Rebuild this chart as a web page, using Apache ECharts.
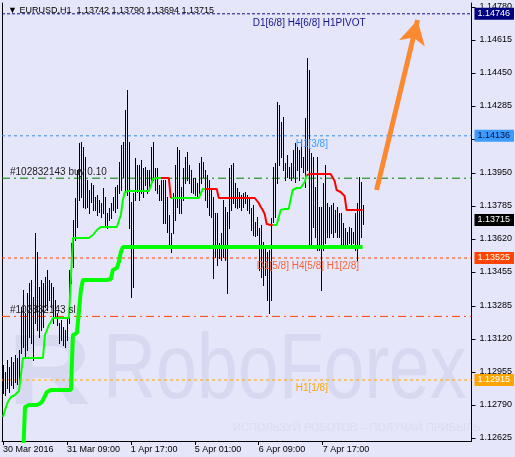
<!DOCTYPE html>
<html><head><meta charset="utf-8">
<script src="https://cdn.jsdelivr.net/npm/echarts@6/dist/echarts.min.js"></script>
<style>html,body{margin:0;padding:0;background:#e6e6fa}#c{width:515px;height:457px}</style>
</head><body><div id="c"></div>
<script>
// ---------- DATA (EURUSD H1, one value per hourly bar) ----------
const highs = [
1.12990,1.12955,1.13015,1.12980,1.13030,1.13005,1.13040,1.13025,1.13065,1.13280,
1.13365,1.13250,1.13350,1.13400,1.13415,1.13330,1.13650,1.13555,1.13380,1.13415,
1.13400,1.13430,1.13465,1.13415,1.13400,1.13380,1.13315,1.13250,1.13200,1.13215,
1.13180,1.13165,1.13230,1.13465,1.13600,1.13715,1.13825,1.13965,1.14100,1.14105,
1.14080,1.14030,1.13915,1.13865,1.13900,1.13890,1.13830,1.13840,1.13815,1.13800,
1.13875,1.13830,1.13750,1.13775,1.13800,1.13830,1.13880,1.13890,1.14005,1.14090,
1.14105,1.14265,1.14365,1.14105,1.13805,1.13850,1.14025,1.13990,1.13990,1.14015,
1.13975,1.13980,1.13965,1.13965,1.14080,1.14105,1.13975,1.13975,1.13890,1.13915,
1.13915,1.13915,1.13830,1.13740,1.13650,1.13850,1.13990,1.14080,1.14065,1.13880,
1.13975,1.14030,1.14055,1.13990,1.13965,1.13925,1.13925,1.13900,1.14000,1.14030,
1.14005,1.13965,1.13940,1.13915,1.13875,1.13830,1.13750,1.13750,1.13600,1.13650,
1.13815,1.13780,1.13755,1.13975,1.13990,1.14000,1.13900,1.13875,1.13855,1.13840,
1.13850,1.13855,1.13840,1.13825,1.13775,1.13790,1.13705,1.13730,1.13675,1.13690,
1.13605,1.13575,1.13555,1.13565,1.13725,1.13980,1.14000,1.14305,1.14290,1.14205,
1.14230,1.14000,1.14040,1.13980,1.14000,1.14065,1.14100,1.14080,1.14065,1.14115,
1.14030,1.14225,1.14525,1.14465,1.14050,1.14030,1.13880,1.14030,1.13780,1.13780,
1.13900,1.13990,1.13800,1.13780,1.13790,1.13800,1.13765,1.13780,1.13750,1.13750,
1.13700,1.13675,1.13655,1.13680,1.13675,1.13655,1.13750,1.13800,1.13930,1.13905,
1.13790];
const lows = [
1.12850,1.12840,1.12875,1.12855,1.12890,1.12875,1.12905,1.12895,1.12900,1.13050,
1.13080,1.13030,1.13065,1.13130,1.13100,1.13015,1.13200,1.13165,1.13130,1.13165,
1.13180,1.13280,1.13265,1.13315,1.13280,1.13200,1.13230,1.13190,1.13100,1.13115,
1.13090,1.13080,1.13115,1.13200,1.13400,1.13480,1.13615,1.13680,1.13815,1.13830,
1.13780,1.13775,1.13780,1.13750,1.13805,1.13765,1.13765,1.13740,1.13755,1.13730,
1.13750,1.13680,1.13675,1.13715,1.13725,1.13765,1.13755,1.13775,1.13850,1.13865,
1.13930,1.13855,1.13840,1.13675,1.13330,1.13380,1.13815,1.13855,1.13815,1.13850,
1.13830,1.13890,1.13850,1.13865,1.13915,1.13915,1.13865,1.13850,1.13815,1.13815,
1.13700,1.13700,1.13655,1.13575,1.13555,1.13650,1.13715,1.13780,1.13750,1.13750,
1.13815,1.13900,1.13915,1.13900,1.13855,1.13850,1.13840,1.13830,1.13850,1.13900,
1.13930,1.13815,1.13780,1.13740,1.13730,1.13425,1.13530,1.13490,1.13525,1.13515,
1.13530,1.13515,1.13350,1.13675,1.13765,1.13800,1.13780,1.13775,1.13780,1.13765,
1.13780,1.13800,1.13765,1.13750,1.13665,1.13640,1.13635,1.13640,1.13465,1.13430,
1.13390,1.13440,1.13315,1.13250,1.13315,1.13705,1.13730,1.13900,1.13990,1.14030,
1.13965,1.13915,1.13930,1.13925,1.13915,1.13930,1.13905,1.13965,1.13915,1.13980,
1.13955,1.13880,1.13965,1.13580,1.13580,1.13680,1.13630,1.13565,1.13565,1.13365,
1.13565,1.13600,1.13630,1.13630,1.13650,1.13630,1.13655,1.13630,1.13630,1.13580,
1.13580,1.13590,1.13575,1.13600,1.13580,1.13600,1.13565,1.13515,1.13580,1.13630,
1.13694];
// trailing trend line (thin), green when below price, red when above
const trendLine = [
1.12730,1.12765,1.12795,1.12815,1.12830,1.12835,1.12840,1.12845,1.12860,1.12865,
1.13025,1.13025,1.13025,1.13025,1.13025,1.13025,1.13025,1.13025,1.13025,1.13025,
1.13025,1.13140,1.13165,1.13190,1.13205,1.13225,1.13225,1.13225,1.13225,1.13225,
1.13225,1.13225,1.13225,1.13225,1.13225,1.13625,1.13625,1.13625,1.13625,1.13625,
1.13625,1.13625,1.13625,1.13625,1.13630,1.13640,1.13645,1.13665,1.13675,1.13680,
1.13680,1.13680,1.13680,1.13680,1.13680,1.13680,1.13680,1.13680,1.13680,1.13740,
1.13815,1.13855,1.13860,1.13860,1.13860,1.13860,1.13860,1.13860,1.13860,1.13860,
1.13860,1.13860,1.13860,1.13860,1.13885,1.13920,1.13925,1.13925,1.13925,1.13925,
1.13925,1.13925,1.13925,1.13925,1.13825,1.13825,1.13825,1.13825,1.13825,1.13825,
1.13825,1.13825,1.13825,1.13825,1.13825,1.13825,1.13825,1.13825,1.13825,1.13825,
1.13870,1.13870,1.13870,1.13870,1.13870,1.13870,1.13870,1.13870,1.13825,1.13825,
1.13825,1.13825,1.13825,1.13825,1.13825,1.13825,1.13825,1.13825,1.13825,1.13825,
1.13825,1.13825,1.13825,1.13825,1.13825,1.13825,1.13825,1.13815,1.13800,1.13780,
1.13765,1.13745,1.13695,1.13690,1.13690,1.13690,1.13690,1.13690,1.13690,1.13765,
1.13770,1.13770,1.13770,1.13770,1.13770,1.13865,1.13875,1.13875,1.13875,1.13875,
1.13875,1.13905,1.13940,1.13945,1.13945,1.13945,1.13945,1.13945,1.13945,1.13945,
1.13945,1.13945,1.13945,1.13945,1.13945,1.13945,1.13910,1.13865,1.13855,1.13855,
1.13855,1.13835,1.13765,1.13765,1.13765,1.13765,1.13765,1.13765,1.13765,1.13765,
1.13765];
// bar index ranges where the trend line is red
const redRuns = [[80, 84], [102, 135], [153, 180]];
// thick trailing line (starts at bar 10)
const thickLine = [
null,null,null,null,null,null,null,null,null,null,
1.12515,1.12780,1.12790,1.12790,1.12790,1.12790,1.12790,1.12790,1.12795,1.12800,
1.12815,1.12835,1.12855,1.12865,1.12865,1.12865,1.12865,1.12865,1.12865,1.12865,
1.12865,1.12865,1.12865,1.12865,1.12865,1.13140,1.13150,1.13150,1.13150,1.13365,
1.13415,1.13415,1.13415,1.13415,1.13415,1.13415,1.13415,1.13415,1.13415,1.13415,
1.13415,1.13415,1.13415,1.13415,1.13420,1.13465,1.13475,1.13475,1.13505,1.13555,
1.13580,1.13580,1.13580,1.13580,1.13580,1.13580,1.13580,1.13580,1.13580,1.13580,
1.13580,1.13580,1.13580,1.13580,1.13580,1.13580,1.13580,1.13580,1.13580,1.13580,
1.13580,1.13580,1.13580,1.13580,1.13580,1.13580,1.13580,1.13580,1.13580,1.13580,
1.13580,1.13580,1.13580,1.13580,1.13580,1.13580,1.13580,1.13580,1.13580,1.13580,
1.13580,1.13580,1.13580,1.13580,1.13580,1.13580,1.13580,1.13580,1.13580,1.13580,
1.13580,1.13580,1.13580,1.13580,1.13580,1.13580,1.13580,1.13580,1.13580,1.13580,
1.13580,1.13580,1.13580,1.13580,1.13580,1.13580,1.13580,1.13580,1.13580,1.13580,
1.13580,1.13580,1.13580,1.13580,1.13580,1.13580,1.13580,1.13580,1.13580,1.13580,
1.13580,1.13580,1.13580,1.13580,1.13580,1.13580,1.13580,1.13580,1.13580,1.13580,
1.13580,1.13580,1.13580,1.13580,1.13580,1.13580,1.13580,1.13580,1.13580,1.13580,
1.13580,1.13580,1.13580,1.13580,1.13580,1.13580,1.13580,1.13580,1.13580,1.13580,
1.13580,1.13580,1.13580,1.13580,1.13580,1.13580,1.13580,1.13580,1.13580,1.13580,
1.13580];
const yTicks = [1.12625,1.12790,1.12955,1.13120,1.13285,1.13455,1.13620,1.13785,1.13950,1.14120,1.14285,1.14450,1.14615,1.14780];
const xTickIdx = [0, 32, 64, 96, 128, 160];
const xTickLabels = ['30 Mar 2016','31 Mar 09:00','1 Apr 17:00','5 Apr 01:00','6 Apr 09:00','7 Apr 17:00'];
// horizontal levels: pivot, H1[3/8], buy order, [5/8], stop loss, H1[1/8]
const levelValues = [1.14746, 1.14136, 1.13924, 1.13525, 1.13233, 1.12915];
const levelTexts = ['D1[6/8] H4[6/8] H1PIVOT', 'H1[3/8]', '#102832143 buy 0.10', 'D1[5/8] H4[5/8] H1[2/8]', '#102832143 sl', 'H1[1/8]'];
const levelTextBar = [125, 146.5, 3.5, 127, 3.5, 146.5];
const lastPrice = 1.13715;
const ohlcTitle = ['EURUSD,H1', 1.13742, 1.13790, 1.13694, 1.13715];
const arrowFrom = [187, 1.13865], arrowTo = [207.5, 1.14715];
// ---------------------------------------------------------------

const FONT = '"Liberation Sans", Arial, "DejaVu Sans", sans-serif';
const X_MIN = -0.5, X_MAX = 234.5, Y_MIN = 1.1261, Y_MAX = 1.1480;
const n = highs.length;
const isRed = i => redRuns.some(([a, b]) => i >= a && i <= b);
const greenData = [], redData = [], thickData = [];
for (let i = 0; i < n; i++) {
  const r = isRed(i), rn = i + 1 < n ? isRed(i + 1) : r;
  redData.push([i, (r || rn) ? trendLine[i] : '-']);
  greenData.push([i, (!r || !rn) ? trendLine[i] : '-']);
  thickData.push([i, thickLine[i] == null ? '-' : thickLine[i]]);
}
const barData = highs.map((h, i) => [i, lows[i], h]);

// level styles (presentation only)
const levelStyle = [
  { color: '#10108a', type: [3, 2], box: '#000080', boxText: '#ffffff', text: '#14148c', dy: 9 },
  { color: '#3a8ef0', type: [3, 3], box: '#3d9bff', boxText: '#001040', text: '#3d9bff', dy: 8 },
  { color: '#008000', type: [8, 4, 2, 4], box: null, text: '#222222', dy: -6 },
  { color: '#ff4500', type: [3, 3], box: '#ff4500', boxText: '#ffffff', text: '#f4643a', dy: 8 },
  { color: '#ff4500', type: [8, 4, 2, 4], box: null, text: '#222222', dy: -6 },
  { color: '#ffa500', type: [3, 3], box: '#ffa500', boxText: '#ffffff', text: '#ffa500', dy: 8 }
];

function levelSeries(value, st, hideLine) {
  return {
    type: 'line', z: 2, silent: true, showSymbol: false, clip: true,
    data: [[X_MIN, value], [X_MAX, value]],
    lineStyle: { color: st.color, type: st.type, width: 1, opacity: hideLine ? 0 : 1 },
    itemStyle: { color: st.color },
    endLabel: st.box ? {
      show: true, distance: 3, formatter: () => value.toFixed(5),
      backgroundColor: st.box, color: st.boxText, padding: [1, 4, 1, 3],
      fontSize: 9, fontFamily: FONT, lineHeight: 10
    } : { show: false }
  };
}

const series = [];
levelValues.forEach((v, k) => series.push(levelSeries(v, levelStyle[k], false)));
series.push(levelSeries(lastPrice, { color: '#000', type: 'solid', box: '#000000', boxText: '#ffffff' }, true));

series.push({
  type: 'custom', name: 'bars', z: 3, clip: true,
  data: barData, encode: { x: 0, y: [1, 2] },
  renderItem: (params, api) => {
    const p1 = api.coord([api.value(0), api.value(1)]);
    const p2 = api.coord([api.value(0), api.value(2)]);
    const x = Math.round(p1[0]);
    const yTop = Math.round(p2[1]), yBot = Math.round(p1[1]);
    return { type: 'rect', shape: { x: x, y: yTop, width: 1, height: Math.max(1, yBot - yTop + 1) },
      style: { fill: '#000' } };
  }
});
series.push({
  type: 'line', name: 'thick', z: 4, data: thickData, showSymbol: false, clip: true,
  lineStyle: { color: '#00ff00', width: 4 }, itemStyle: { color: '#00ff00' }
});
series.push({
  type: 'line', name: 'trendUp', z: 5, data: greenData, showSymbol: false, clip: true,
  lineStyle: { color: '#00ff00', width: 2 }, itemStyle: { color: '#00ff00' }
});
series.push({
  type: 'line', name: 'trendDown', z: 5, data: redData, showSymbol: false, clip: true,
  lineStyle: { color: '#ff0000', width: 2 }, itemStyle: { color: '#ff0000' }
});
// level captions inside the plot
series.push({
  type: 'custom', name: 'captions', z: 6, silent: true, clip: false,
  data: levelValues.map((v, k) => [levelTextBar[k], v]),
  renderItem: (params, api) => {
    const k = params.dataIndex;
    const p = api.coord([api.value(0), api.value(1)]);
    return { type: 'text', x: p[0], y: p[1] + levelStyle[k].dy,
      style: { text: levelTexts[k], fill: levelStyle[k].text, font: '10px ' + FONT,
        align: 'left', verticalAlign: 'middle' } };
  }
});
// forecast arrow
series.push({
  type: 'line', name: 'arrow', z: 7, silent: true, data: [],
  markLine: {
    silent: true, symbol: ['none', 'arrow'], animation: false,
    data: [[
      { coord: arrowFrom, symbol: 'none' },
      { coord: arrowTo, symbol: 'arrow', symbolSize: [20, 24] }
    ]],
    lineStyle: { color: '#fa8a32', width: 5, type: 'solid' },
    label: { show: false }
  }
});

const chart = echarts.init(document.getElementById('c'), null, { renderer: 'canvas' });
chart.setOption({
  animation: false,
  backgroundColor: '#e6e6fa',
  title: {
    text: '\u25BC ' + ohlcTitle[0] + '  ' + ohlcTitle.slice(1).map(v => v.toFixed(5)).join(' '),
    left: 3, top: 1,
    textStyle: { fontSize: 9, fontWeight: 'normal', color: '#000', fontFamily: FONT }
  },
  graphic: [
    { type: 'text', z: -10, x: 8, y: 326, style: { text: 'R', font: 'bold 100px ' + FONT, fill: '#d6d9ef' }, scaleX: 1.15 },
    { type: 'text', z: -10, x: 103, y: 326, style: { text: 'RoboForex', font: '93px ' + FONT, fill: '#d6d9ef' }, scaleX: 0.79 },
    { type: 'text', z: -10, x: 233, y: 422, style: { text: 'ИСПОЛЬЗУЙ РОБОТОВ – ПОЛУЧАЙ ПРИБЫЛЬ', font: '11px ' + FONT, fill: '#dadcf1' } }
  ],
  grid: { left: 2, right: 43, top: 3, bottom: 16, containLabel: false },
  xAxis: {
    type: 'value', min: X_MIN, max: X_MAX,
    splitLine: { show: false },
    axisLine: { show: true, onZero: false, lineStyle: { color: '#000', width: 1 } },
    axisTick: { show: true, length: 4, customValues: xTickIdx, lineStyle: { color: '#000' } },
    axisLabel: { show: true, customValues: xTickIdx, align: 'left', margin: 4,
      formatter: v => xTickLabels[xTickIdx.indexOf(Math.round(v))] || '',
      color: '#000', fontSize: 9, fontFamily: FONT }
  },
  yAxis: [{
    type: 'value', position: 'right', min: Y_MIN, max: Y_MAX,
    splitLine: { show: false },
    axisLine: { show: true, onZero: false, lineStyle: { color: '#000', width: 1 } },
    axisTick: { show: true, length: 4, customValues: yTicks, lineStyle: { color: '#000' } },
    axisLabel: { show: true, customValues: yTicks, margin: 8, formatter: v => v.toFixed(5),
      color: '#000', fontSize: 9, fontFamily: FONT }
  }, {
    type: 'value', position: 'left', min: Y_MIN, max: Y_MAX,
    splitLine: { show: false },
    axisLine: { show: true, onZero: false, lineStyle: { color: '#000', width: 1 } },
    axisTick: { show: false }, axisLabel: { show: false }
  }],
  series: series
});
</script></body></html>
